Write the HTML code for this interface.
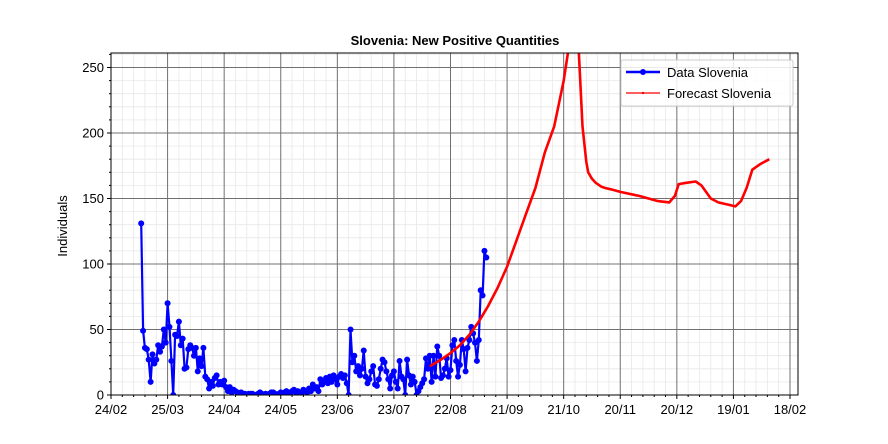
<!DOCTYPE html>
<html><head><meta charset="utf-8"><style>
body{margin:0;background:#fff;}
svg{display:block;font-family:"Liberation Sans","DejaVu Sans",sans-serif;}
</style></head><body>
<svg id="chart" width="888" height="444" viewBox="0 0 888 444" xmlns="http://www.w3.org/2000/svg">
<rect x="0" y="0" width="888" height="444" fill="#fff"/>
<g id="grid"></g>
<g id="series"></g>
<g id="axes"></g>
<text x="455" y="45" text-anchor="middle" font-size="13" font-weight="bold">Slovenia: New Positive Quantities</text>
<text transform="translate(67,226) rotate(-90)" text-anchor="middle" font-size="13">Individuals</text>
<g>
<rect x="621" y="60" width="172" height="46" fill="#fff" fill-opacity="0.85" stroke="#ccc" rx="2"/>
<line x1="626" y1="72" x2="660" y2="72" stroke="#0000ff" stroke-width="2.5"/>
<circle cx="643" cy="72" r="3" fill="#0000ff"/>
<text x="667" y="77" font-size="13">Data Slovenia</text>
<line x1="626" y1="93" x2="660" y2="93" stroke="#ff0000" stroke-width="1.2"/>
<circle cx="643" cy="93" r="1.2" fill="#ff0000"/>
<text x="667" y="98" font-size="13">Forecast Slovenia</text>
</g>
</svg>
<script>
const xTickLabels=["24/02","25/03","24/04","24/05","23/06","23/07","22/08","21/09","21/10","20/11","20/12","19/01","18/02"];
const yTicks=[0,50,100,150,200,250];
const dataStartDay=16;
const dataValues=[131,49,36,35,27,10,31,24,27,38,33,37,50,40,70,52,26,0,
46,45,56,38,43,20,21,35,38,36,30,36,18,28,22,36,14,12,5,10,7,13,
15,8,10,8,11,6,3,6,2,4,3,2,1,2,1,1,0,1,1,1,0,0,1,2,1,0,1,0,1,2,2,1,0,1,2,1,2,3,2,1,3,4,2,3,2,1,4,3,2,5,3,8,5,6,3,
12,8,10,13,9,14,10,15,12,8,14,16,13,15,9,0,
50,25,30,18,22,15,20,34,14,9,12,18,22,8,7,12,20,27,25,18,12,5,15,18,10,5,26,14,12,0,27,15,8,14,10,0,3,6,9,12,28,20,30,10,30,14,37,30,13,15,20,28,14,19,38,42,26,14,23,42,35,18,36,42,52,47,40,26,42,80,76,110,105];
const forecastDays=[169,175,180,185,190,195,200,205,210,215,220,225,230,235,240,243,246,248,250,252,253,255,257,260,262,265,270,280,290,296,299,301,305,310,313,318,322,328,331,334,337,340,344,349];
const forecastValues=[22,27,32,38,46,56,68,82,98,118,138,158,185,205,240,268,275,262,205,178,170,165,162,159,158,157,155,152,148,147,152,161,162,163,160,150,147,145,144,148,158,172,176,180];

const X0=111,X1=798,Y0=395,Y1=53,PXD=(790-111)/360,YMAX=(395-53)/1.31;
const xs=d=>X0+d*PXD;
const ys=v=>Y0-v*(Y0-Y1)/YMAX;
const NS="http://www.w3.org/2000/svg";
function mk(tag,attrs,parent){const e=document.createElementNS(NS,tag);for(const k in attrs)e.setAttribute(k,attrs[k]);parent.appendChild(e);return e;}
const grid=document.getElementById('grid'),axes=document.getElementById('axes'),series=document.getElementById('series');
for(let v=10;v<YMAX;v+=10){if(v%50){mk('line',{x1:X0,x2:X1,y1:ys(v),y2:ys(v),stroke:'#e8e8e8','stroke-width':0.8},grid);}}
for(let d=6;d<(X1-X0)/PXD;d+=6){if(d%30){mk('line',{x1:xs(d),x2:xs(d),y1:Y1,y2:Y0,stroke:'#e8e8e8','stroke-width':0.8},grid);}}
yTicks.forEach(v=>{
 mk('line',{x1:X0,x2:X1,y1:ys(v),y2:ys(v),stroke:'#707070','stroke-width':1},grid);
 mk('line',{x1:X0-4,x2:X0,y1:ys(v),y2:ys(v),stroke:'#000'},axes);
 const t=mk('text',{x:X0-7,y:ys(v)+4.5,'text-anchor':'end','font-size':13},axes);t.textContent=v;
 
 
});
for(let v=10;v<YMAX;v+=10){if(v%50)mk('line',{x1:X0-2,x2:X0,y1:ys(v),y2:ys(v),stroke:'#000'},axes);}
xTickLabels.forEach((lab,i)=>{
 const x=xs(i*30);
 mk('line',{x1:x,x2:x,y1:Y1,y2:Y0,stroke:'#707070','stroke-width':1},grid);
 mk('line',{x1:x,x2:x,y1:Y0,y2:Y0+4,stroke:'#000'},axes);
 const t=mk('text',{x:x,y:Y0+19,'text-anchor':'middle','font-size':13},axes);t.textContent=lab;
 
 
});
for(let d=6;d<(X1-X0)/PXD;d+=6){if(d%30)mk('line',{x1:xs(d),x2:xs(d),y1:Y0,y2:Y0+2,stroke:'#000'},axes);}
const frame=mk('rect',{x:X0,y:Y1,width:X1-X0,height:Y0-Y1,fill:'none',stroke:'#000','stroke-width':1},axes);


const defs=mk('defs',{},document.getElementById('chart'));
const cp=mk('clipPath',{id:'clip'},defs);mk('rect',{x:X0,y:Y1,width:X1-X0,height:Y0-Y1},cp);
series.setAttribute('clip-path','url(#clip)');
const dpts=dataValues.map((v,i)=>xs(dataStartDay+i).toFixed(1)+','+ys(v).toFixed(1)).join(' ');
const dl=mk('polyline',{points:dpts,fill:'none',stroke:'#0000ff','stroke-width':2.2,'stroke-linejoin':'round'},series);


dataValues.forEach((v,i)=>{
 const c=mk('circle',{cx:xs(dataStartDay+i),cy:ys(v),r:3,fill:'#0000ff'},series);
 
 
});
const fpts=forecastDays.map((d,i)=>xs(d).toFixed(1)+','+ys(forecastValues[i]).toFixed(1)).join(' ');
const fl=mk('polyline',{points:fpts,fill:'none',stroke:'#ff0000','stroke-width':2.6,'stroke-linejoin':'round'},series);


</script>
</body></html>
